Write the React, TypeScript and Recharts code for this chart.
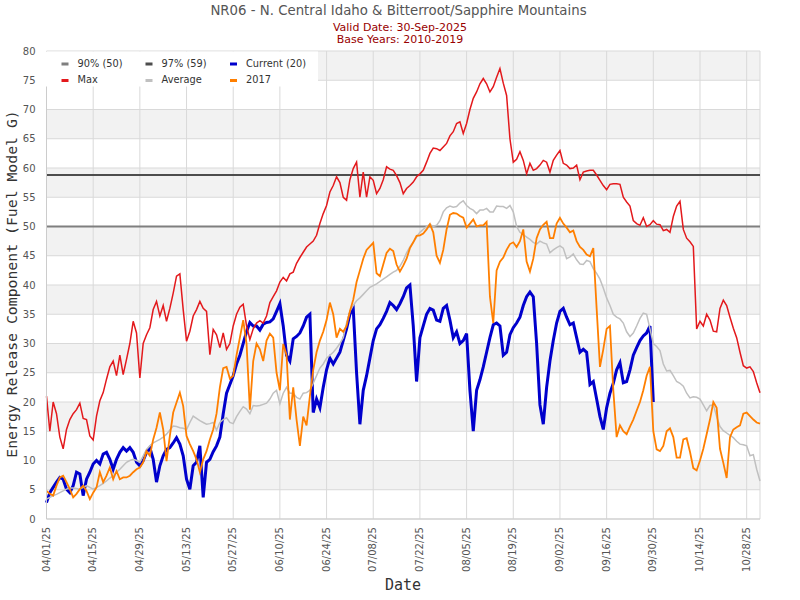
import { LineChart, Line, XAxis, YAxis, CartesianGrid, ReferenceLine } from "recharts";

// Energy Release Component, NR06, one value per day from 04/01 to 11/01
const MAX = [
  21, 15, 20, 18, 14, 12, 15.3, 17, 18, 18.7,
  19.8, 17.2, 17, 14.2, 13.5, 17.6, 20.2, 21.6, 23.9, 26,
  27, 24.5, 28, 24.7, 27.3, 30, 33.8, 31.8, 24.1, 30,
  31.5, 32.7, 35.8, 37.2, 34.7, 36.5, 33.8, 36, 38.6, 41.5,
  41.9, 35.8, 30.4, 32.1, 34.7, 35.8, 37.2, 36, 35.5, 28.1,
  32.4, 31.5, 29.3, 31.8, 29, 30, 33, 35, 36.2, 36.7,
  33, 30.7, 32.5, 33.5, 33.9, 33.5, 34.7, 37, 38, 39,
  40.5, 41.3, 40.7, 41.9, 42.2, 43.7, 44.7, 45.6, 46.5, 47,
  47.5, 48.5, 50.5, 52.2, 53.6, 55.9, 57, 58.5, 57.5, 55,
  54.5, 58, 59.9, 61, 55, 59.3, 55, 58.5, 57.9, 55.6,
  56.5, 58, 60.2, 59.8, 59.6, 58.7, 57.5, 55.6, 56.5, 57,
  57.6, 58.5, 59, 59.6, 61, 62.5, 63.4, 63.3, 63, 63.6,
  64.2, 65.5, 66.2, 67.6, 67.9, 65.9, 67.6, 70, 71.9, 73,
  74.4, 75.3, 74.4, 73, 73.9, 75.5, 77, 74.5, 72.4, 65,
  61, 61.5, 62.8, 61.3, 59, 60.8, 59.6, 59.9, 60.5, 61.3,
  61, 59.3, 61.3, 62.2, 63, 60.8, 60.5, 59.9, 60, 60.5,
  58, 59.3, 59.5, 59.6, 59.6, 58.8, 57.9, 57, 56.3, 57.2,
  57.3, 57.3, 57.2, 55, 54.2, 53.5, 51, 50.5, 50.2, 51.5,
  50, 50.3, 51, 50.4, 50.3, 49.3, 49.5, 49, 51.7, 53.5,
  54.3, 49.5, 48, 47.4, 46.6, 32.5, 33.8, 33, 35, 34,
  32.1, 32, 36, 37.4, 36.5, 34.5, 32.6, 31, 28.5, 26.2,
  25.8, 26, 25.2, 23.3, 21.6,
];

const AVERAGE = [
  3.4, 3.7, 4, 4.2, 4.5, 4.8, 5.1, 5.3, 5.3, 5.2,
  5.1, 5.4, 5.7, 5.4, 5.1, 5.4, 5.7, 6.1, 6.5, 7,
  7.4, 8, 8.5, 9.1, 9.7, 10, 10.2, 10, 9.7, 10.8,
  11.9, 12.5, 13, 13.3, 13.6, 14, 14.5, 15.2, 15.9, 15.8,
  15.6, 15.5, 15.3, 16.5, 17.6, 17.2, 16.8, 16.5, 16.2, 16.3,
  16.5, 15.2, 16.5, 17, 17.3, 16.5, 16.3, 17.5, 18.4, 19.2,
  18.8, 18, 19.4, 19.3, 19.4, 19.6, 19.8, 20.5, 21.5, 22,
  19.7, 21.5, 22.5, 21.5, 21.5, 20.8, 20.5, 21.5, 21.6, 22,
  23.2, 24.5, 25.8, 26.5, 27.5, 28, 28.5, 29.2, 30, 31,
  33.5, 35.5, 36.5, 37.3, 37.8, 38.4, 39, 39.6, 39.9, 40.2,
  40.6, 41, 41.4, 41.8, 42.2, 42.5, 43.2, 44.2, 45.5, 46.5,
  47.3, 48.2, 49, 49.5, 50, 50.4, 50, 50.2, 51, 52.5,
  53.2, 53.5, 53.3, 53.4, 54, 54.4, 53.6, 53.1, 52.8, 52.2,
  52.8, 52.8, 53.1, 52.5, 52.5, 53.5, 53.4, 53.4, 53.1, 53.6,
  52.5, 50, 49, 48.6, 48.2, 47.8, 47.3, 47, 47.5, 47.2,
  47, 45.5, 46, 46.4, 46.7, 46.3, 44.5, 44.8, 45.3, 44.3,
  43.6, 43.5, 44.2, 44, 42.8, 42, 41, 39.5, 37.8, 36.5,
  35, 34.5, 34.2, 33.5, 32, 31.2, 31.8, 33, 34.3, 35.2,
  35, 32.5, 30, 29.5, 28.8, 26.5, 25.3, 25.4, 24.5, 23.5,
  23.2, 22.7, 21.5, 20.7, 20.9, 20.8, 20.5, 19.5, 18.5, 19.4,
  19.5, 17.5, 15.8, 15.1, 14.7, 14.3, 13.9, 13.3, 12.8, 12.7,
  12.5, 10.8, 11, 8.5, 6.5,
];

const YEAR_2017 = [
  4.8, 4.3, 4, 5.7, 7.1, 7.4, 6.3, 5.1, 3.7, 4.3,
  5.1, 5.7, 4.8, 3.4, 4.5, 5.4, 8, 6.3, 7.4, 8.8,
  6.8, 8.2, 6.8, 7.1, 7.1, 7.4, 8, 8.5, 8.8, 9.7,
  11.6, 10.8, 13.6, 15.6, 18.2, 15.3, 9.9, 14.2, 18.2, 19.9,
  21.6, 19.3, 14.2, 12.8, 11.6, 10.2, 8, 10.2, 11.6, 13.6,
  15.3, 18, 22.5, 25.8, 26, 24, 24.5, 28, 31, 34,
  30, 18.7, 27, 30, 29, 27, 30.5, 31.7, 31, 25,
  22, 29.9, 28, 17, 22.5, 17, 12.5, 17.5, 16, 21,
  25.5, 28.5, 30.5, 32, 34, 37, 35, 31, 32.5, 32,
  33, 35.5, 37.5, 40.5, 42.5, 44.5, 46, 46.6, 47.2, 42,
  41.5, 43.5, 45.5, 46.2, 45.8, 43.5, 42.3, 43.3, 44.5, 46.3,
  47.3, 48.4, 48.5, 48.8, 49.5, 50.4, 49, 45, 43.8, 46,
  49.5, 52, 52.3, 52.2, 51.8, 51.5, 49.8, 50.5, 51.2, 50,
  50.2, 50.2, 50.8, 38, 33.5, 42.5, 44, 44.7, 46, 47,
  47.3, 46.5, 47.5, 49.5, 44, 42.3, 44.5, 48, 49.5, 50.3,
  50.8, 48, 48, 50.5, 51.5, 50.5, 49.8, 49, 49.3, 47.5,
  46.5, 46, 45.2, 44.9, 46.3, 36, 26, 29, 32.5, 33,
  22, 14, 16, 15, 14.5, 15.8, 17, 18.5, 20, 22,
  24.5, 26, 15, 11.9, 11.6, 12.5, 15, 15.5, 14, 10.5,
  10.5, 13.6, 13.8, 11.5, 8.7, 8.3, 10, 12, 14.5, 17,
  20, 19, 12, 9.6, 7, 14, 15.3, 15.7, 16, 18,
  18.2, 17.6, 17, 16.5, 16.3,
];

// current season stops on 09/30
const CURRENT = [
  2.8, 4.5, 5.4, 6.3, 7.1, 6.8, 5.1, 4.5, 5.7, 8,
  7.7, 4, 6.8, 8, 9.4, 10, 9.4, 11.1, 11.4, 10.2,
  8.5, 10.2, 11.4, 12.2, 11.6, 12.2, 11.4, 9.7, 9.1, 10,
  11.4, 12.2, 10.2, 6.3, 9.1, 10.8, 11.9, 12.2, 13, 13.9,
  12.8, 10.8, 6.8, 5.1, 9.1, 9.7, 12.5, 3.7, 9.7, 10.2,
  11.5, 12.5, 14, 18, 21.5, 23, 24.5, 26.5, 28, 30,
  32, 33.6, 33, 33, 32.3, 33.3, 33.6, 33.7, 34.2, 35.5,
  36.8, 33, 28, 27, 30.8, 31.2, 31.8, 33, 34.5, 35,
  18.2, 20.5, 19, 22.5, 25.5, 27.5, 26.5, 27.5, 28.5, 30.5,
  32.5, 35, 36, 25, 16.2, 22, 24.5, 27.5, 30.5, 32.5,
  33.2, 34.3, 35.5, 37, 36.5, 35.8, 36.8, 38, 39.5, 40,
  33, 23.5, 31, 33, 35, 36, 35.7, 34, 33.8, 36,
  36.5, 34, 31, 32, 30, 30.5, 31.7, 22, 15, 22,
  23.8, 26, 28.5, 31, 33.2, 33.5, 33, 28, 28.5, 31.5,
  32.7, 33.5, 34.5, 36.5, 38, 38.8, 38, 30, 19.5, 16.2,
  22.5, 27, 30.5, 33.5, 35.5, 36, 34.5, 33.2, 33.5, 31,
  28.5, 29, 28.5, 23, 23.5, 20.5, 17.5, 15.3, 19, 21.5,
  23.2, 25.5, 26.7, 23.3, 23.5, 25.5, 28, 29.3, 30.5, 31.3,
  31.8, 33, 20,
];

const PCT_90 = 50;
const PCT_97 = 58.8;

const TICK_DAYS = [0, 14, 28, 42, 56, 70, 84, 98, 112, 126, 140, 154, 168, 182, 196, 210];
const TICK_LABELS = [
  "04/01/25", "04/15/25", "04/29/25", "05/13/25", "05/27/25", "06/10/25", "06/24/25", "07/08/25",
  "07/22/25", "08/05/25", "08/19/25", "09/02/25", "09/16/25", "09/30/25", "10/14/25", "10/28/25",
];
const Y_TICKS = [0, 5, 10, 15, 20, 25, 30, 35, 40, 45, 50, 55, 60, 65, 70, 75, 80];

const FONT = "'DejaVu Sans', Verdana, sans-serif";
const MONO = "'DejaVu Sans Mono', monospace";

const LEGEND = [
  { name: "90% (50)", color: "#7f7f7f" },
  { name: "97% (59)", color: "#4d4d4d" },
  { name: "Current (20)", color: "#0000cc" },
  { name: "Max", color: "#e3191c" },
  { name: "Average", color: "#c0c0c0" },
  { name: "2017", color: "#ff7f00" },
];

const data = MAX.map((m, i) => ({
  day: i,
  max: m,
  avg: AVERAGE[i],
  y2017: YEAR_2017[i],
  current: CURRENT[i],
}));

function DateTick({ x, y, payload }: any) {
  const label = TICK_LABELS[TICK_DAYS.indexOf(payload.value)];
  return (
    <text
      x={x}
      y={y}
      dy={3}
      transform={`rotate(-90, ${x}, ${y})`}
      textAnchor="end"
      fontSize={10}
      fontFamily={FONT}
      fill="#555"
    >
      {label}
    </text>
  );
}

function ValueTick({ x, y, payload }: any) {
  return (
    <text x={x} y={y} dy={3.5} textAnchor="end" fontSize={10} fontFamily={FONT} fill="#555">
      {payload.value}
    </text>
  );
}

function YTitle() {
  return (
    <text
      x={17}
      y={284}
      transform="rotate(-90, 17, 284)"
      textAnchor="middle"
      fontSize={14.8}
      fontFamily={MONO}
      fill="#333"
    >
      Energy Release Component (Fuel Model G)
    </text>
  );
}

function XTitle() {
  return (
    <text x={403} y={590} textAnchor="middle" fontSize={15} fontFamily={MONO} fill="#333">
      Date
    </text>
  );
}

export default function App() {
  const cols = [77.5, 161.5, 246];
  return (
    <div style={{ position: "relative", width: 800, height: 600, background: "#fff" }}>
      <style>{"body{margin:0}"}</style>
      <LineChart width={800} height={600} data={data} margin={{ top: 51, right: 40, bottom: 0, left: 0 }}>
        <CartesianGrid stroke="#d9d9d9" horizontalFill={["#f2f2f2", "#ffffff"]} fillOpacity={1} />
        <XAxis
          dataKey="day"
          type="number"
          domain={[0, 214]}
          ticks={TICK_DAYS}
          interval={0}
          height={81}
          tickLine={false}
          tickSize={0}
          tickMargin={8}
          axisLine={{ stroke: "#cccccc" }}
          tick={<DateTick />}
          label={<XTitle />}
        />
        <YAxis
          domain={[0, 80]}
          ticks={Y_TICKS}
          interval={0}
          width={46.5}
          tickLine={false}
          tickSize={0}
          tickMargin={11}
          axisLine={{ stroke: "#cccccc" }}
          tick={<ValueTick />}
          label={<YTitle />}
        />
        <ReferenceLine y={PCT_90} stroke="#7f7f7f" strokeWidth={2} />
        <ReferenceLine y={PCT_97} stroke="#4d4d4d" strokeWidth={2} />
        <Line dataKey="current" stroke="#0000cc" strokeWidth={3} dot={false} isAnimationActive={false} />
        <Line dataKey="max" stroke="#e3191c" strokeWidth={1.5} dot={false} isAnimationActive={false} />
        <Line dataKey="avg" stroke="#c0c0c0" strokeWidth={1.5} dot={false} isAnimationActive={false} />
        <Line dataKey="y2017" stroke="#ff7f00" strokeWidth={1.8} dot={false} isAnimationActive={false} />
      </LineChart>
      <svg width={800} height={600} style={{ position: "absolute", left: 0, top: 0, pointerEvents: "none" }}>
        <text x={398.5} y={15} textAnchor="middle" fontSize={13.3} fontFamily={FONT} fill="#555">
          NR06 - N. Central Idaho &amp; Bitterroot/Sapphire Mountains
        </text>
        <text x={400} y={31} textAnchor="middle" fontSize={11} fontFamily={FONT} fill="#990000">
          Valid Date: 30-Sep-2025
        </text>
        <text x={400} y={43} textAnchor="middle" fontSize={11} fontFamily={FONT} fill="#990000">
          Base Years: 2010-2019
        </text>
        <rect x={46} y={51.5} width={272} height={35} fill="#ffffff" />
        {LEGEND.map((item, i) => {
          const col = cols[i % 3];
          const rowY = i < 3 ? 66.5 : 83;
          return (
            <g key={item.name}>
              <rect x={col - 16} y={rowY - 4} width={7} height={3} fill={item.color} />
              <text x={col} y={rowY} fontSize={9.8} fontFamily={FONT} fill="#333">
                {item.name}
              </text>
            </g>
          );
        })}
      </svg>
    </div>
  );
}
